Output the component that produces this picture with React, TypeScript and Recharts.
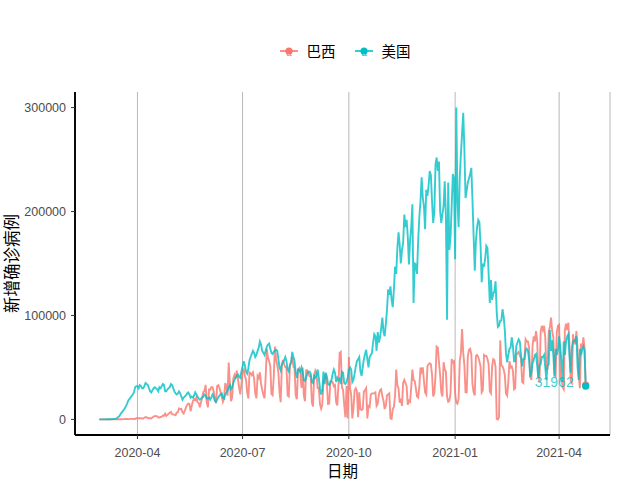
import React from 'react'
import { LineChart, Line, XAxis, YAxis, CartesianGrid, Legend } from 'recharts'

const startDate = '2020-02-28'
const xTickLabels = ['2020-04', '2020-07', '2020-10', '2021-01', '2021-04']
const yTicks = [0, 100000, 200000, 300000]
const seriesNames = ['巴西', '美国']
const seriesColors = ['#F8766D', '#00BFC4']

// daily new cases in thousands, one row per month, 2020-02-28 .. 2021-04-24
const brazilK = [
  0, 0,
  0, 0, 0, 0, 0, 0, 0, 0, 0, 0, 0, 0, 0.1, 0, 0.1, 0.1, 0.1, 0.1, 0.3, 0.3, 0.3, 0.4, 0.4, 0.3, 0.3, 0.5, 0.5, 0.5, 0.4, 0.3, 1.1,
  1.1, 1.2, 1.1, 1.2, 0.9, 0.9, 1.6, 2.2, 1.9, 1.2, 1.1, 1.2, 0.9, 1.8, 3.0, 3.1, 3.3, 2.9, 1.9, 1.9, 2.3, 2.7, 3.7, 3.5, 5.5, 3.4, 4.6, 5.4, 6.3, 7.2,
  5.0, 4.6, 4.6, 4.1, 6.6, 6.9, 10.5, 9.9, 10.2, 6.8, 5.6, 8.6, 11.4, 13.9, 15.3, 14.9, 7.9, 13.1, 17.4, 19.9, 18.5, 20.8, 16.5, 15.8, 11.7, 16.3, 20.6, 26.4, 26.9, 33.3, 16.4,
  11.6, 28.9, 28.6, 31.0, 30.8, 27.1, 18.9, 15.7, 32.1, 32.9, 30.4, 26.0, 21.7, 17.1, 20.6, 34.9, 32.2, 22.8, 54.8, 34.7, 17.5, 21.4, 39.4, 42.7, 39.5, 46.9, 38.7, 30.5, 24.1, 33.8,
  46.7, 48.1, 42.2, 37.9, 26.1, 20.2, 45.3, 44.6, 42.6, 45.0, 39.0, 24.8, 20.3, 41.9, 39.9, 45.4, 34.2, 28.5, 23.5, 20.3, 41.0, 67.9, 59.0, 55.9, 51.1, 24.6, 23.3, 40.8, 70.0, 57.8, 52.4,
  45.4, 25.8, 16.6, 51.6, 57.2, 53.1, 50.2, 49.9, 23.0, 22.0, 52.2, 55.2, 60.1, 50.6, 49.3, 23.1, 19.4, 47.8, 49.3, 45.3, 30.4, 50.0, 23.4, 17.5, 47.1, 47.2, 44.2, 41.4, 41.4, 16.2, 12.4,
  42.7, 46.9, 43.8, 30.2, 30.2, 14.5, 10.3, 14.3, 35.8, 40.6, 43.7, 33.5, 14.8, 15.2, 36.7, 36.8, 35.7, 31.9, 33.0, 16.4, 13.4, 33.5, 64.0, 65.0, 31.0, 28.0, 14.0, 2.0, 32.0, 1.0,
  60, 30, 24, 1, 11, 28, 30, 27, 2, 26, 10, 9, 10, 27, 28, 30, 1, 13, 12, 24, 25, 25, 25, 26, 13, 15, 24, 28, 29, 22, 18,
  10, 13, 23, 24, 25, 1, 0.5, 10, 12, 23, 48, 33, 30, 16, 20, 13, 35, 38, 35, 32, 14, 18, 17, 31, 48, 38, 37, 30, 22, 21,
  31, 50, 46, 50, 37, 26, 24, 51, 53, 54, 53, 43, 22, 25, 42, 70, 69, 55, 43, 26, 22, 55, 48, 46, 22, 17, 18, 25, 58, 55, 56,
  25, 16, 15, 20, 56, 64, 87, 64, 52, 26, 26, 61, 67, 68, 63, 34, 26, 23, 61, 62, 60, 56, 51, 26, 28, 62, 61, 61, 58, 53, 27,
  25, 51, 58, 57, 50, 0.5, 0, 2, 76, 52, 51, 48, 43, 25, 23, 35, 56, 50, 51, 47, 29, 30, 62, 64, 65, 61, 59, 36,
  35, 59, 77, 75, 75, 69, 41, 38, 70, 80, 75, 85, 76, 43, 36, 84, 90, 86, 90, 79, 48, 49, 84, 89, 98, 85, 79, 44, 42, 84, 90,
  91, 38, 41, 31, 29, 86, 92, 86, 93, 71, 37, 35, 82, 73, 73, 85, 67, 42, 30, 73, 68, 79, 69, 33,
]

const usK = [
  0, 0,
  0, 0, 0, 0, 0, 0.1, 0.1, 0.1, 0.2, 0.3, 0.4, 0.5, 0.7, 1.0, 2.0, 2.8, 4.5, 6.0, 7.5, 9.0, 10.5, 12.5, 15, 18, 19.5, 21, 22.5, 24, 26, 31, 32,
  32, 30, 33, 32, 30, 30, 32, 35, 34, 33, 30, 27, 26, 28, 30, 31, 30, 29, 27, 31, 30, 32, 34, 33, 27, 27, 29, 30, 31, 34,
  33, 30, 27, 25, 24, 25, 27, 25, 22, 19, 21, 22, 23, 25, 26, 24, 21, 22, 21, 23, 26, 24, 22, 20, 19, 20, 21, 22, 24, 23, 20,
  20, 21, 19, 21, 24, 22, 18, 17, 19, 21, 23, 24, 25, 21, 20, 24, 26, 28, 31, 33, 29, 31, 35, 38, 40, 42, 43, 41, 40, 46,
  51, 56, 52, 46, 44, 49, 57, 60, 63, 66, 64, 60, 62, 66, 69, 75, 72, 66, 64, 62, 66, 70, 72, 73, 68, 64, 63, 65, 66, 67, 66,
  58, 50, 47, 53, 55, 57, 60, 56, 48, 46, 52, 55, 65, 60, 56, 45, 40, 48, 48, 46, 50, 46, 38, 37, 40, 44, 46, 46, 44, 36, 35,
  42, 40, 42, 48, 40, 30, 24, 28, 46, 34, 45, 41, 34, 33, 35, 38, 44, 48, 45, 36, 40, 38, 39, 34, 46, 45, 35, 34, 36, 40,
  48, 50, 48, 36, 38, 44, 51, 56, 58, 60, 46, 42, 50, 58, 63, 67, 58, 50, 60, 62, 64, 74, 82, 80, 66, 84, 74, 79, 88, 98, 84,
  80, 92, 105, 125, 120, 128, 115, 108, 125, 147, 140, 165, 180, 168, 150, 163, 170, 197, 185, 192, 176, 149, 172, 185, 207, 112, 150, 149, 140, 172,
  195, 210, 233, 213, 205, 183, 221, 215, 225, 239, 235, 210, 189, 200, 245, 252, 239, 248, 200, 189, 198, 205, 229, 196, 96, 228, 163, 175, 205, 236, 232,
  154, 300, 211, 185, 233, 255, 275, 295, 260, 213, 220, 228, 232, 236, 242, 211, 176, 143, 172, 185, 192, 190, 168, 132, 150, 147, 155, 167, 165, 140, 112,
  134, 115, 121, 123, 133, 103, 89, 90, 95, 95, 106, 99, 86, 64, 55, 62, 68, 69, 79, 71, 56, 56, 71, 74, 77, 75, 62, 51,
  58, 58, 66, 68, 66, 58, 41, 45, 54, 57, 62, 63, 52, 40, 52, 53, 60, 60, 62, 50, 38, 52, 53, 86, 66, 76, 62, 41, 68, 62, 67,
  80, 70, 55, 36, 75, 62, 75, 80, 82, 60, 45, 68, 75, 76, 75, 80, 50, 38, 68, 62, 67, 70, 66, 31.962,
]

const DAY = 86400000
const t0 = Date.parse(startDate)

const data = usK.map((_, i) => ({
  t: t0 + i * DAY,
  br: Math.round(brazilK[i] * 1000),
  us: Math.round(usK[i] * 1000),
}))

const lastIndex = data.length - 1
const tMin = data[0].t
const tMax = data[lastIndex].t
const tPad = (tMax - tMin) * 0.05
const yMax = Math.max(...data.map((d) => Math.max(d.br, d.us)))
const xTicks = xTickLabels.map((s) => Date.parse(s + '-01'))

const tickFont = '"Liberation Sans", Arial, sans-serif'
const cjkFont = '"Noto Sans CJK SC", sans-serif'

function endPoint(color: string, withLabel: boolean) {
  return (props: any) => {
    const { cx, cy, index, value } = props
    if (index !== lastIndex) return <g key={`p-${index}`} />
    return (
      <g key={`p-${index}`}>
        <circle cx={cx} cy={cy} r={3.6} fill={color} />
        {withLabel && (
          <text
            x={cx - 12}
            y={cy - 4}
            textAnchor="end"
            dominantBaseline="central"
            fontSize={14}
            fontFamily={tickFont}
            fill={color}
            fillOpacity={0.75}
          >
            {value}
          </text>
        )}
      </g>
    )
  }
}

function LegendBox() {
  return (
    <div
      style={{
        display: 'flex',
        justifyContent: 'center',
        alignItems: 'center',
        paddingLeft: 50,
        fontFamily: cjkFont,
        fontSize: 14.5,
        color: '#000',
      }}
    >
      {seriesNames.map((name, i) => (
        <div key={name} style={{ display: 'flex', alignItems: 'center', marginRight: i === 0 ? 19 : 0 }}>
          <svg width={18} height={18}>
            <line x1={0} x2={18} y1={9} y2={9} stroke={seriesColors[i]} strokeOpacity={0.8} strokeWidth={2} />
            <circle cx={9} cy={9} r={3.6} fill={seriesColors[i]} />
            <text x={9} y={14} textAnchor="middle" fontSize={10} fontFamily={tickFont} fill={seriesColors[i]}>
              a
            </text>
          </svg>
          <span style={{ marginLeft: 9 }}>{name}</span>
        </div>
      ))}
    </div>
  )
}

export default function App() {
  return (
    <div style={{ position: 'absolute', left: 0, top: 0, width: 640, height: 480, background: '#fff' }}>
      <LineChart width={640} height={480} data={data} margin={{ top: 92, right: 30, bottom: 0, left: 0 }}>
        <CartesianGrid horizontal={false} stroke="#B8B8B8" strokeWidth={1} />
        <XAxis
          dataKey="t"
          type="number"
          domain={[tMin - tPad, tMax + tPad]}
          ticks={xTicks}
          interval={0}
          tickFormatter={(v: number) => new Date(v).toISOString().slice(0, 7)}
          height={45}
          tickSize={4}
          tickMargin={9}
          axisLine={{ stroke: '#000', strokeWidth: 1.9 }}
          tickLine={{ stroke: '#333' }}
          tick={{ fill: '#4D4D4D', fontSize: 12.5, fontFamily: tickFont }}
          label={{
            content: (p: any) => (
              <text
                x={p.viewBox.x + p.viewBox.width / 2}
                y={p.viewBox.y + 35}
                textAnchor="middle"
                dominantBaseline="central"
                fontSize={15.5}
                fontFamily={cjkFont}
                fill="#000"
              >
                日期
              </text>
            ),
          }}
        />
        <YAxis
          type="number"
          domain={[-yMax * 0.05, yMax * 1.05]}
          ticks={yTicks}
          interval={0}
          width={75}
          tickSize={4}
          tickMargin={5}
          axisLine={{ stroke: '#000', strokeWidth: 1.9 }}
          tickLine={{ stroke: '#333' }}
          tick={{ fill: '#4D4D4D', fontSize: 12.5, fontFamily: tickFont }}
          label={{
            content: (p: any) => {
              const x = p.viewBox.x + 11
              const y = p.viewBox.y + p.viewBox.height / 2
              return (
                <text
                  x={x}
                  y={y}
                  transform={`rotate(-90 ${x} ${y})`}
                  textAnchor="middle"
                  dominantBaseline="central"
                  fontSize={16.5}
                  fontFamily={cjkFont}
                  fill="#000"
                >
                  新增确诊病例
                </text>
              )
            },
          }}
        />
        <Legend
          layout="vertical"
          align="center"
          verticalAlign="middle"
          wrapperStyle={{ top: 40, left: 0, width: 640 }}
          content={() => <LegendBox />}
        />
        <Line
          type="linear"
          dataKey="br"
          name={seriesNames[0]}
          stroke={seriesColors[0]}
          strokeOpacity={0.8}
          strokeWidth={1.9}
          dot={endPoint(seriesColors[0], false)}
          activeDot={false}
          isAnimationActive={false}
        />
        <Line
          type="linear"
          dataKey="us"
          name={seriesNames[1]}
          stroke={seriesColors[1]}
          strokeOpacity={0.8}
          strokeWidth={1.9}
          dot={endPoint(seriesColors[1], true)}
          activeDot={false}
          isAnimationActive={false}
        />
      </LineChart>
    </div>
  )
}
